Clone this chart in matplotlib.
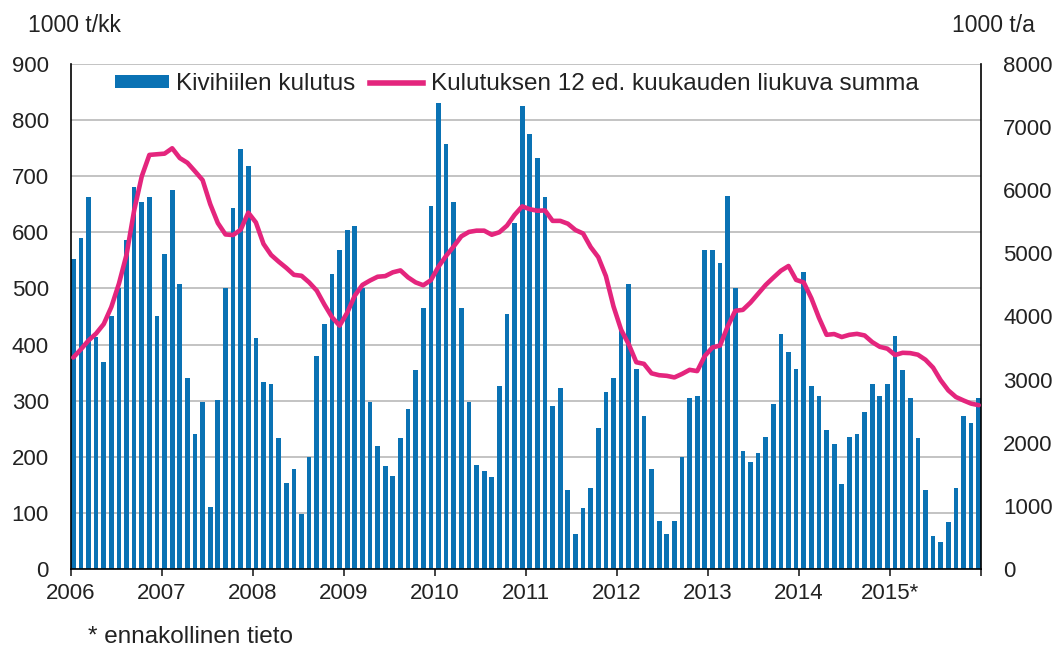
import numpy as np
import matplotlib
matplotlib.use("Agg")
import matplotlib.pyplot as plt
from matplotlib.patches import Patch
from matplotlib.lines import Line2D

plt.rcParams["font.family"] = ["Liberation Sans", "DejaVu Sans"]
plt.rcParams["font.size"] = 16

# Monthly hard coal consumption, 1000 t, Jan 2006 - Dec 2015
kulutus_2006 = [552, 590, 663, 414, 369, 451, 500, 587, 680, 654, 663, 451]
kulutus_2007 = [562, 676, 508, 340, 240, 298, 111, 301, 500, 644, 748, 719]
kulutus_2008 = [412, 333, 330, 233, 154, 179, 98, 200, 379, 436, 526, 569]
kulutus_2009 = [604, 612, 500, 298, 219, 183, 166, 233, 286, 355, 466, 647]
kulutus_2010 = [830, 758, 654, 466, 298, 186, 175, 164, 326, 454, 616, 826]
kulutus_2011 = [776, 733, 663, 290, 322, 140, 62, 108, 144, 251, 315, 340]
kulutus_2012 = [426, 508, 357, 273, 179, 86, 62, 86, 200, 304, 308, 569]
kulutus_2013 = [569, 545, 665, 501, 211, 190, 207, 236, 294, 419, 387, 357]
kulutus_2014 = [530, 326, 308, 248, 222, 151, 236, 240, 279, 330, 308, 330]
kulutus_2015 = [415, 355, 304, 233, 140, 58, 48, 83, 144, 273, 261, 304]

# 12-month moving sum, 1000 t/a (right axis)
summa_2006 = [3350, 3480, 3620, 3730, 3880, 4150, 4520, 4980, 5680, 6220, 6560, 6570]
summa_2007 = [6580, 6665, 6510, 6435, 6300, 6160, 5780, 5480, 5300, 5290, 5375, 5645]
summa_2008 = [5490, 5150, 4975, 4868, 4770, 4660, 4645, 4540, 4410, 4190, 3990, 3855]
summa_2009 = [4060, 4330, 4500, 4570, 4630, 4640, 4700, 4730, 4620, 4540, 4495, 4575]
summa_2010 = [4790, 4960, 5110, 5270, 5340, 5360, 5360, 5295, 5335, 5440, 5610, 5745]
summa_2011 = [5700, 5675, 5680, 5515, 5515, 5470, 5370, 5315, 5100, 4940, 4640, 4160]
summa_2012 = [3790, 3560, 3275, 3250, 3100, 3070, 3060, 3035, 3090, 3155, 3135, 3375]
summa_2013 = [3510, 3540, 3840, 4090, 4105, 4220, 4360, 4500, 4615, 4725, 4800, 4580]
summa_2014 = [4540, 4290, 3980, 3710, 3722, 3675, 3710, 3725, 3700, 3595, 3520, 3490]
summa_2015 = [3390, 3425, 3420, 3395, 3315, 3190, 2990, 2830, 2725, 2670, 2620, 2595]

year_labels = ["2006", "2007", "2008", "2009", "2010", "2011", "2012", "2013", "2014", "2015*"]

kulutus = np.concatenate([kulutus_2006, kulutus_2007, kulutus_2008, kulutus_2009, kulutus_2010,
                          kulutus_2011, kulutus_2012, kulutus_2013, kulutus_2014, kulutus_2015])
summa = np.concatenate([summa_2006, summa_2007, summa_2008, summa_2009, summa_2010,
                        summa_2011, summa_2012, summa_2013, summa_2014, summa_2015])

bar_color = "#0a72b4"
line_color = "#e4257d"
text_color = "#222222"

fig = plt.figure(figsize=(10.57, 6.47), dpi=100)
ax = fig.add_axes([71 / 1057, 1 - 569 / 647, 910 / 1057, 505 / 647])

n = len(kulutus)
x = np.linspace(0.3, n - 0.3, n)
ax.bar(x, kulutus, width=0.62, color=bar_color, zorder=2)

ax.set_xlim(0, n)
ax.set_ylim(0, 900)
ax.set_yticks(np.arange(0, 901, 100))
ax.grid(axis="y", color="#c3c3c3", linewidth=1.4, zorder=0)
ax.set_axisbelow(True)

ax.set_xticks(np.arange(0, n + 1, 12))
ax.set_xticklabels(year_labels + [""])
ax.tick_params(axis="x", direction="out", length=5, width=1.2, pad=5, colors=text_color)
ax.tick_params(axis="y", length=0, pad=16, colors=text_color)

for side in ["left", "bottom"]:
    ax.spines[side].set_color("black")
    ax.spines[side].set_linewidth(1.2)
ax.spines["top"].set_visible(False)
ax.spines["right"].set_visible(False)

ax2 = ax.twinx()
ax2.plot(x, summa, color=line_color, linewidth=3.3, solid_joinstyle="round",
         solid_capstyle="round", zorder=3)
ax2.set_ylim(0, 8000)
ax2.set_yticks(np.arange(0, 8001, 1000))
ax2.tick_params(axis="y", length=0, pad=16, colors=text_color)
ax2.spines["right"].set_color("black")
ax2.spines["right"].set_linewidth(1.2)
ax2.spines["top"].set_visible(False)
ax2.spines["left"].set_visible(False)
ax2.spines["bottom"].set_visible(False)

handles = [Patch(facecolor=bar_color, edgecolor="none"),
           Line2D([0], [0], color=line_color, linewidth=4)]
ax2.legend(handles, ["Kivihiilen kulutus", "Kulutuksen 12 ed. kuukauden liukuva summa"],
           loc="upper center", bbox_to_anchor=(0.49, 1.025), ncol=2, frameon=False,
           handlelength=2.2, handleheight=0.45, handletextpad=0.3, columnspacing=0.6,
           fontsize=17.5, labelcolor=text_color)

fig.text(28 / 1057, 1 - 25 / 647, "1000 t/kk", ha="left", va="center", color=text_color, fontsize=16.5)
fig.text(1035 / 1057, 1 - 25 / 647, "1000 t/a", ha="right", va="center", color=text_color, fontsize=16.5)
fig.text(88 / 1057, 1 - 637 / 647, "* ennakollinen tieto", ha="left", va="center",
         color=text_color, fontsize=17.5)

fig.savefig("out.png", dpi=100)
